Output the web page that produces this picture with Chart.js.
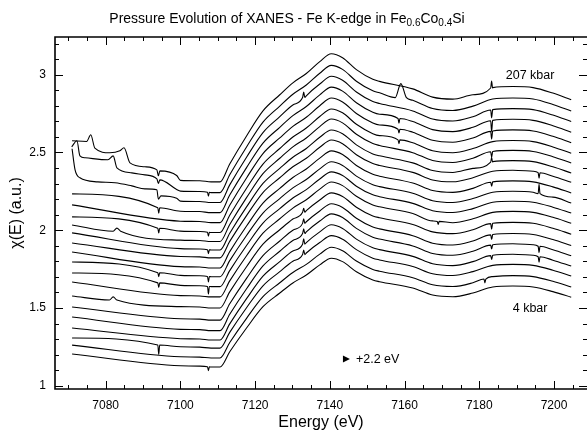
<!DOCTYPE html>
<html>
<head>
<meta charset="utf-8">
<script src="https://cdn.jsdelivr.net/npm/chart.js@4.4.1/dist/chart.umd.min.js"></script>
<style>
  html, body { margin: 0; padding: 0; background: #fff; }
</style>
</head>
<body>
<canvas id="xanesChart" width="587" height="433"></canvas>
<script>
// spectra are stacked bottom (4 kbar, index 0) to top (207 kbar, index 19)
const pressureLabels = ['4 kbar', '207 kbar'];

// 4 kbar spectrum through the edge
const edgeEnergy = [7100, 7105.2, 7108.2, 7110.6, 7113.2, 7117.7, 7122.1, 7126.6, 7130.1, 7133.7, 7137.3,
    7140.4, 7143.4, 7147.1, 7151.5, 7153.3, 7162.2, 7167.5, 7172.9, 7178.3, 7183.6, 7189.0, 7194.4, 7199.7, 7204.6];
const chi4kbar = [1.128, 1.126, 1.120, 1.120, 1.218, 1.371, 1.508, 1.596, 1.661, 1.712, 1.777,
    1.820, 1.798, 1.733, 1.680, 1.669, 1.628, 1.583, 1.572, 1.596, 1.635, 1.641, 1.635, 1.605, 1.569];

// level of every spectrum at the pre-edge (~7110 eV) and at the white line (~7140 eV)
const preEdgeLevels = [1.120, 1.178, 1.242, 1.294, 1.354, 1.422, 1.500, 1.571, 1.637, 1.701,
    1.757, 1.822, 1.873, 1.927, 1.985, 2.049, 2.113, 2.178, 2.242, 2.311];
const peakLevels = [1.82, 1.89, 1.965, 2.035, 2.105, 2.17, 2.24, 2.31, 2.375, 2.44,
    2.51, 2.58, 2.645, 2.715, 2.78, 2.85, 2.92, 2.99, 3.06, 3.135];

// where the spectra 0..16 begin (7071 eV)
const startEnergy = 7071;
const startLevels = [1.204, 1.261, 1.307, 1.371, 1.442, 1.506, 1.577, 1.667, 1.725, 1.796,
    1.860, 1.918, 1.983, 2.034, 2.086, 2.163, 2.234];

// the three top spectra have glitchy starts
const scanAEnergy = [7071.0, 7074.9, 7076.0, 7077.1, 7081.1, 7083.8, 7084.9, 7086.5, 7090.5, 7093.7, 7094.1, 7094.5, 7099.0];
const scanAChi = [2.575, 2.571, 2.614, 2.528, 2.498, 2.511, 2.530, 2.433, 2.408, 2.388, 2.350, 2.382, 2.352];
const scanBEnergy = [7070.9, 7072.3, 7073.1, 7074.5, 7080.6, 7082.0, 7083.0, 7087.0, 7090.5, 7093.7, 7094.1, 7094.5, 7099.0];
const scanBChi = [2.536, 2.575, 2.478, 2.466, 2.453, 2.478, 2.401, 2.369, 2.356, 2.330, 2.300, 2.324, 2.262];
const scanCEnergy = [7071.0, 7071.8, 7073.1, 7077.9, 7082.5, 7087.0, 7090.5, 7093.7, 7094.1, 7094.8, 7099.0];
const scanCChi = [2.524, 2.388, 2.337, 2.311, 2.305, 2.285, 2.266, 2.260, 2.200, 2.221, 2.205];

// monochromator glitches: spectrum index, energy, height, half width
const glitchCurve = [0, 8, 9, 12, 14, 18, 2, 8, 9, 14, 16, 2, 3, 4, 5, 6, 17, 18, 14, 15, 16,
    19, 17, 16, 15, 13, 12, 10, 6, 5, 4, 3, 1, 9, 11, 4, 3, 7, 13, 6];
const glitchEnergy = [7107.5, 7107.5, 7107.5, 7107.5, 7107.5, 7107.5, 7094.2, 7094.2, 7094.2, 7094.2, 7094.2,
    7133, 7133, 7133, 7133, 7133, 7133, 7159, 7158.5, 7158.5, 7158.5,
    7183.3, 7183.3, 7183.3, 7183.3, 7183.3, 7183.3, 7183.3, 7183.3, 7183.3, 7183.3, 7183.3, 7181.5,
    7196, 7196, 7196, 7196, 7169, 7083, 7082];
const glitchAmp = [-0.025, -0.05, -0.035, -0.025, -0.025, -0.025, -0.06, -0.03, -0.025, -0.03, -0.035,
    0.03, 0.035, 0.03, 0.03, 0.025, 0.035, 0.09, -0.025, -0.025, -0.03,
    0.045, -0.05, -0.07, -0.05, -0.035, 0.03, -0.025, -0.035, -0.03, -0.025, -0.025, -0.025,
    0.06, -0.035, -0.04, -0.035, -0.02, 0.02, 0.02];
const glitchWidth = [0.25, 0.25, 0.25, 0.25, 0.25, 0.25, 0.25, 0.25, 0.25, 0.25, 0.25,
    0.3, 0.3, 0.3, 0.3, 0.3, 0.3, 1.5, 0.25, 0.25, 0.25,
    0.25, 0.25, 0.25, 0.25, 0.25, 0.25, 0.25, 0.25, 0.25, 0.25, 0.25, 0.25,
    0.25, 0.25, 0.25, 0.25, 0.25, 1.0, 1.0];

const pre0 = preEdgeLevels[0], peak0 = peakLevels[0];
const topStarts = { 17: [scanCEnergy, scanCChi], 18: [scanBEnergy, scanBChi], 19: [scanAEnergy, scanAChi] };

function spectrum(k) {
    const pts = [];
    if (topStarts[k]) topStarts[k][0].forEach((e, i) => pts.push({ x: e, y: topStarts[k][1][i] }));
    else pts.push({ x: startEnergy, y: startLevels[k] });
    const gain = (peakLevels[k] - preEdgeLevels[k]) / (peak0 - pre0);
    edgeEnergy.forEach((e, i) => pts.push({ x: e, y: preEdgeLevels[k] + gain * (chi4kbar[i] - pre0) }));
    glitchCurve.forEach((c, g) => {
        if (c !== k) return;
        const e = glitchEnergy[g], w = glitchWidth[g];
        const j = pts.findIndex(p => p.x > e);
        const p0 = pts[j - 1], p1 = pts[j];
        const base = p0.y + (p1.y - p0.y) * (e - p0.x) / (p1.x - p0.x);
        pts.splice(j, 0, { x: e - w, y: base }, { x: e, y: base + glitchAmp[g] }, { x: e + w, y: base });
    });
    return pts;
}

const datasets = preEdgeLevels.map((_, k) => ({
    label: 'scan ' + (k + 1),
    data: spectrum(k),
    borderColor: '#000',
    borderWidth: 1.1,
    pointRadius: 0,
    fill: false,
    cubicInterpolationMode: 'monotone'
}));

const fontName = '"Liberation Sans", Helvetica, Arial, sans-serif';

const frameAndText = {
    id: 'frameAndText',
    afterDraw(chart) {
        const { ctx, chartArea: a, scales: { x, y } } = chart;
        ctx.save();
        ctx.strokeStyle = '#000';
        ctx.lineWidth = 1.6;
        ctx.beginPath();
        ctx.moveTo(a.right, a.top);
        ctx.lineTo(a.left, a.top);
        ctx.lineTo(a.left, a.bottom);
        ctx.lineTo(a.right, a.bottom);
        ctx.stroke();

        // inward ticks on all four sides
        ctx.lineWidth = 1;
        ctx.beginPath();
        for (let e = 7070; e <= 7205; e += 5) {
            const px = Math.round(x.getPixelForValue(e)) + 0.5;
            const len = e % 20 === 0 ? 8 : 4;
            ctx.moveTo(px, a.bottom); ctx.lineTo(px, a.bottom - len);
            ctx.moveTo(px, a.top); ctx.lineTo(px, a.top + len);
        }
        for (let i = 10; i <= 32; i++) {
            const py = Math.round(y.getPixelForValue(i / 10)) + 0.5;
            const len = i % 5 === 0 ? 8 : 4;
            ctx.moveTo(a.left, py); ctx.lineTo(a.left + len, py);
            ctx.moveTo(a.right, py); ctx.lineTo(a.right - len, py);
        }
        ctx.stroke();

        // title with subscripts
        const parts = [['Pressure Evolution of XANES - Fe K-edge in Fe', false], ['0.6', true],
            ['Co', false], ['0.4', true], ['Si', false]];
        const big = '14px ' + fontName, small = '10px ' + fontName;
        let total = 0;
        parts.forEach(([t, sub]) => { ctx.font = sub ? small : big; total += ctx.measureText(t).width; });
        let tx = 287 - total / 2;
        ctx.fillStyle = '#000';
        ctx.textBaseline = 'alphabetic';
        ctx.textAlign = 'left';
        parts.forEach(([t, sub]) => {
            ctx.font = sub ? small : big;
            ctx.fillText(t, tx, sub ? 26 : 23);
            tx += ctx.measureText(t).width;
        });

        // pressure labels and edge-shift note
        ctx.font = '12.5px ' + fontName;
        ctx.textAlign = 'center';
        ctx.textBaseline = 'middle';
        ctx.fillText(pressureLabels[1], x.getPixelForValue(7193.6), y.getPixelForValue(2.995));
        ctx.fillText(pressureLabels[0], x.getPixelForValue(7193.6), y.getPixelForValue(1.498));
        const ax = x.getPixelForValue(7144.3), ay = y.getPixelForValue(1.171);
        ctx.beginPath();
        ctx.moveTo(ax - 3, ay - 3.5); ctx.lineTo(ax + 4, ay); ctx.lineTo(ax - 3, ay + 3.5);
        ctx.closePath();
        ctx.fill();
        ctx.textAlign = 'left';
        ctx.fillText('+2.2 eV', ax + 10, ay);
        ctx.restore();
    }
};

new Chart(document.getElementById('xanesChart'), {
    type: 'line',
    data: { datasets },
    options: {
        responsive: false,
        animation: false,
        layout: { padding: { top: 37, right: 0, bottom: 0, left: 0 } },
        plugins: { legend: { display: false }, tooltip: { enabled: false }, title: { display: false } },
        scales: {
            x: {
                type: 'linear',
                min: 7066.43,
                max: 7208.83,
                afterFit: s => { s.height = 44; },
                grid: { display: false },
                border: { display: false },
                ticks: {
                    stepSize: 20,
                    includeBounds: false,
                    maxRotation: 0,
                    padding: 1,
                    color: '#000',
                    font: { family: fontName, size: 12 },
                    callback: v => String(v)
                },
                title: {
                    display: true,
                    text: 'Energy (eV)',
                    color: '#000',
                    font: { family: fontName, size: 16 },
                    padding: { top: 0, bottom: 1 }
                }
            },
            y: {
                type: 'linear',
                min: 0.9788,
                max: 3.2427,
                afterFit: s => { s.width = 55; },
                grid: { display: false },
                border: { display: false },
                ticks: {
                    stepSize: 0.5,
                    includeBounds: false,
                    padding: 1,
                    color: '#000',
                    font: { family: fontName, size: 12 },
                    callback: v => String(v)
                },
                title: {
                    display: true,
                    text: 'χ(E) (a.u.)',
                    color: '#000',
                    font: { family: fontName, size: 16 },
                    padding: { top: 7.4, bottom: 0 }
                }
            }
        }
    },
    plugins: [frameAndText]
});
</script>
</body>
</html>
